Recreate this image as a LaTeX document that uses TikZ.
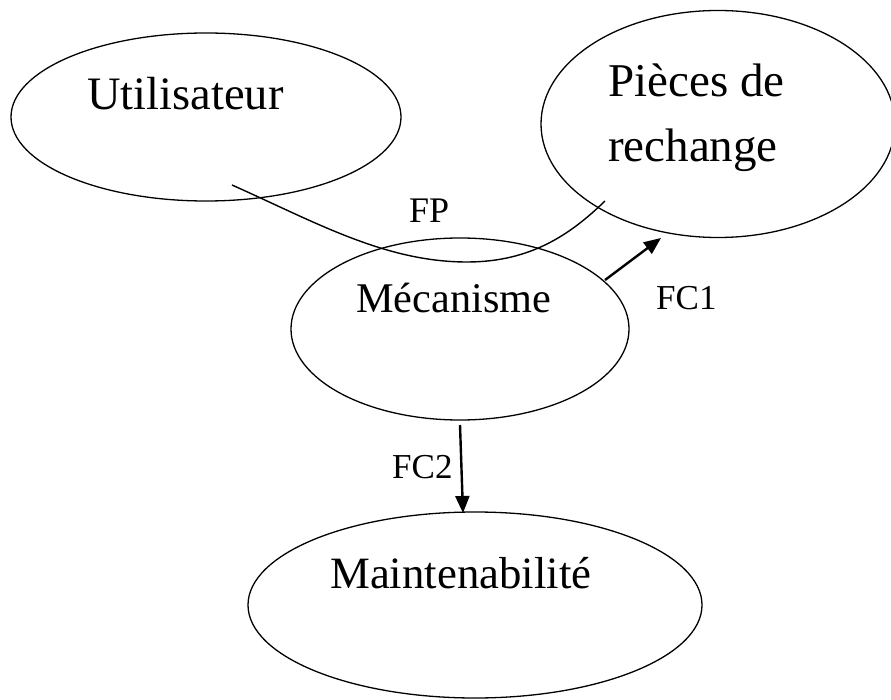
\documentclass[tikz,border=0pt]{standalone}
\usepackage{fontspec}
\setmainfont{Liberation Serif}
\usetikzlibrary{shapes.geometric,arrows.meta}
\begin{document}
\begin{tikzpicture}[x=1pt,y=-1pt,
  oval/.style={draw,ellipse,line width=1.3pt,inner sep=0pt},
  lbl/.style={anchor=base west,inner sep=0pt},
  fleche/.style={line width=2.4pt,-{Triangle[length=17pt,width=14pt]}}]
\useasboundingbox (0,0) rectangle (891,700);
% ellipses
\node[oval,minimum width=390pt,minimum height=168pt] (util) at (206,117) {};
\node[oval,minimum width=354pt,minimum height=227pt] (pieces) at (718,124) {};
\node[oval,minimum width=338pt,minimum height=182pt] (meca) at (460,329) {};
\node[oval,minimum width=454pt,minimum height=186pt] (maint) at (475,605) {};
% texts
\node[lbl,font=\fontsize{46.5pt}{50pt}\selectfont] (tutil) at (87,110) {Utilisateur};
\node[lbl,font=\fontsize{47pt}{50pt}\selectfont] (tp1) at (608,97) {Pièces de};
\node[lbl,font=\fontsize{47pt}{50pt}\selectfont] (tp2) at (608,162) {rechange};
\node[lbl,font=\fontsize{42.3pt}{46pt}\selectfont] (tmeca) at (356,313) {Mécanisme};
\node[lbl,font=\fontsize{44.8pt}{48pt}\selectfont] (tmaint) at (330,588) {Maintenabilité};
\node[lbl,font=\fontsize{36pt}{40pt}\selectfont] (tfp) at (409,223) {FP};
\node[lbl,font=\fontsize{35pt}{40pt}\selectfont] (tfc1) at (656,310) {FC1};
\node[lbl,font=\fontsize{35pt}{40pt}\selectfont] (tfc2) at (392,478) {FC2};
% connectors
\coordinate (fpA) at (232,185);
\coordinate (fpM) at (467,262);
\coordinate (fpB) at (605,201);
\draw[line width=1.4pt] (fpA) .. controls (315,222) and (385,262) .. (fpM)
  .. controls (530,262) and (570,235) .. (fpB);
\coordinate (c1s) at (605,280);
\coordinate (c1e) at (661,238);
\draw[fleche] (c1s) -- (c1e);
\coordinate (c2s) at (460,425);
\coordinate (c2e) at (463,513);
\draw[fleche] (c2s) -- (c2e);
\end{tikzpicture}
\end{document}
